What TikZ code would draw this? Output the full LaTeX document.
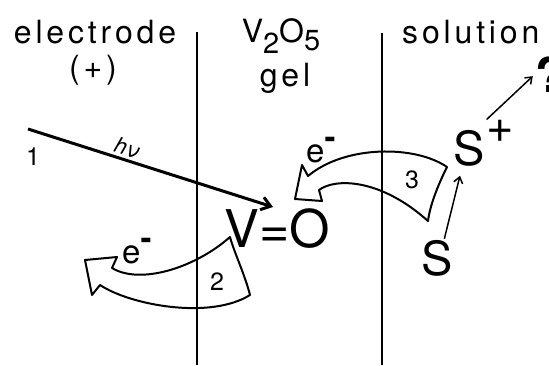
\documentclass[tikz,border=0pt]{standalone}
\usepackage{fontspec}
\setmainfont{TeX Gyre Heros}
\newfontfamily\espaciada[LetterSpace=12]{TeX Gyre Heros}
\usetikzlibrary{arrows.meta,positioning}
\tikzset{
  cab/.style={inner sep=0pt,font=\espaciada\fontsize{32}{35}\selectfont},
  grande/.style={inner sep=0pt,font=\fontsize{52}{56}\selectfont},
  medio/.style={inner sep=0pt,font=\fontsize{47}{50}\selectfont},
  cifra/.style={inner sep=0pt,font=\fontsize{25}{28}\selectfont},
  elec/.style={inner sep=0pt,font=\fontsize{33}{36}\selectfont},
  pared/.style={line width=1.8pt},
  bloque/.style={line width=2pt,line join=round},
  flecha/.style={line width=1.5pt,-{Straight Barb[length=6pt,width=9pt]}},
  luz/.style={line width=3pt,-{Straight Barb[length=9pt,width=13pt]}}
}
\newcommand{\electron}{e\raisebox{0.42em}{\bfseries -}}
\newcommand{\subsc}[2]{\raisebox{#1}{\fontsize{29}{29}\selectfont #2}}

\begin{document}
\begin{tikzpicture}[x=1pt,y=-1pt]
\useasboundingbox (0,0) rectangle (549,365);
% encabezados
\node[cab,anchor=base] (elect) at (95,43) {electrode};
\node[cab,anchor=base] (pos) at (93,78) {(+)};
\node[cab,anchor=base] (vo) at (281,42) {V\subsc{-0.36em}{2}O\subsc{-0.27em}{5}};
\node[cab,anchor=base] (gel) at (285,86) {gel};
\node[cab,anchor=base west] (sol) at (402,43) {solution};
% paredes
\draw[pared] (197,32) -- (197,365);
\draw[pared] (382,33) -- (382,365);
% especies
\node[grande,anchor=base] (vdo) at (277.5,247) {V=O};
\node[medio,anchor=base] (s) at (437.5,275) {S};
\node[medio,anchor=base] (sp) at (469,165) {S};
\node[medio,anchor=base] (mas) at (500.5,142) {+};
\node[inner sep=0pt,font=\bfseries\fontsize{48}{50}\selectfont,anchor=base west] (q) at (535,92) {?};
% paso 1: luz
\coordinate (luzA) at (28,129);
\coordinate (luzB) at (273,207);
\draw[luz] (luzA) -- node[sloped,above,inner sep=2pt,pos=0.39,font=\itshape\fontsize{22}{22}\selectfont] (hv) {hν} (luzB);
\node[cifra] (uno) at (33,157) {1};
% paso 2: electron al electrodo
\draw[bloque] (230,237) .. controls (195,268) and (140,285) .. (112,268)
  -- (117,257) -- (85,260) -- (92,295) -- (100,285)
  .. controls (130,305) and (210,320) .. (250,295)
  .. controls (245,275) and (234,252) .. (230,237) -- cycle;
\node[cifra] (dos) at (217,282) {2};
\node[elec,anchor=base west] (e2) at (122,263) {\electron};
% paso 3: electron desde la solucion
\draw[bloque] (447,167) .. controls (415,145) and (345,145) .. (308,176)
  -- (302,165) -- (295,199) -- (322,201) -- (319,190)
  .. controls (335,178) and (380,178) .. (428,221)
  .. controls (430,205) and (438,185) .. (447,167) -- cycle;
\node[cifra] (tres) at (412,180) {3};
\node[elec,anchor=base west] (e3) at (306,162) {\electron};
% oxidacion de S
\draw[flecha,shorten <=1pt,shorten >=10pt] (s.70) -- (sp.-110);
\draw[flecha,shorten >=3pt] (mas.north west) -- (q.west);
\end{tikzpicture}
\end{document}
